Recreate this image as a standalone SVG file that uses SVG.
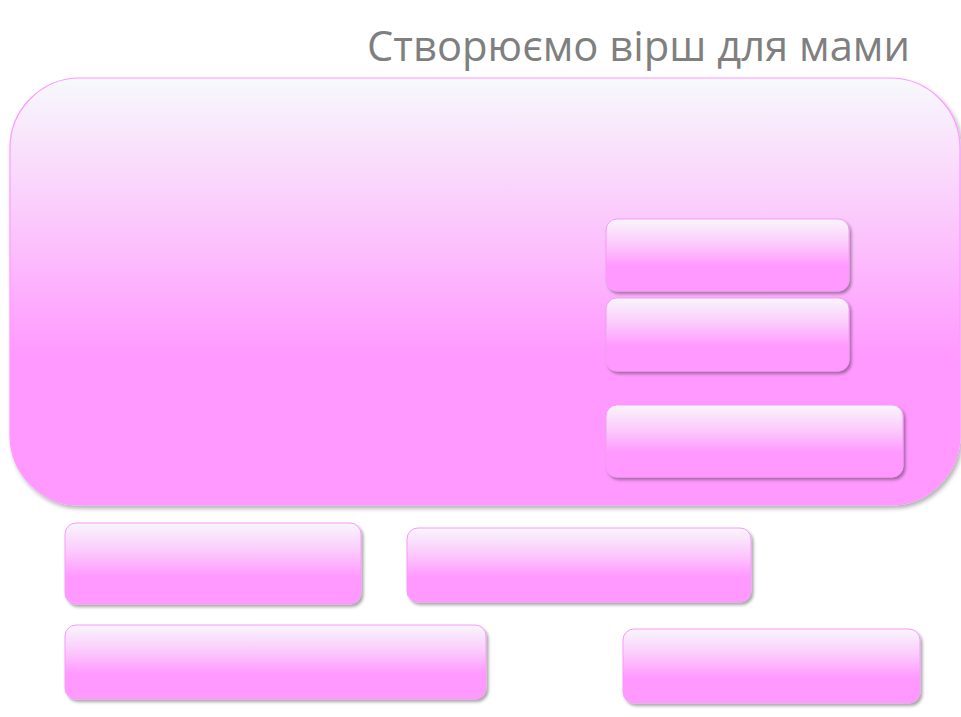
<svg xmlns="http://www.w3.org/2000/svg" width="961" height="717" viewBox="0 0 961 717">
<style>
.title{font-family:"Open Sans","DejaVu Sans",sans-serif;font-size:42px;fill:#7f7f7f}
.box{fill:url(#gSmall);stroke:#f59cf5;stroke-width:1;filter:url(#sh)}
.big{fill:url(#gBig);stroke:#ff99ff;stroke-width:1.2;filter:url(#shBig)}
</style>
<defs>
<linearGradient id="gBig" x1="0" y1="0" x2="0" y2="1">
<stop offset="0" stop-color="#f7f9fc"/>
<stop offset="0.32" stop-color="#fbcbfc"/>
<stop offset="0.65" stop-color="#ff99ff"/>
<stop offset="1" stop-color="#ff99ff"/>
</linearGradient>
<linearGradient id="gSmall" x1="0" y1="0" x2="0" y2="1">
<stop offset="0" stop-color="#f8f6fc"/>
<stop offset="0.35" stop-color="#fbcafc"/>
<stop offset="0.66" stop-color="#ff99ff"/>
<stop offset="1" stop-color="#ff99ff"/>
</linearGradient>
<filter id="sh" x="-5%" y="-10%" width="115%" height="130%">
<feDropShadow dx="2" dy="2.5" stdDeviation="1.5" flood-color="#000" flood-opacity="0.35"/>
</filter>
<filter id="shBig" x="-3%" y="-3%" width="106%" height="108%">
<feDropShadow dx="2" dy="3" stdDeviation="2" flood-color="#000" flood-opacity="0.3"/>
</filter>
</defs>
<rect width="961" height="717" fill="#ffffff"/>
<text class="title" x="367" y="61" textLength="543" lengthAdjust="spacingAndGlyphs">Створюємо вірш для мами</text>
<g id="container">
<rect class="big" x="10" y="78" width="950" height="427" rx="70" ry="70"/>
</g>
<g id="node1"><rect class="box" x="606" y="219" width="243" height="72" rx="11"/></g>
<g id="node2"><rect class="box" x="606" y="298" width="243" height="73" rx="11"/></g>
<g id="node3"><rect class="box" x="606" y="405" width="297" height="72" rx="11"/></g>
<g id="node4"><rect class="box" x="65" y="523" width="296" height="81" rx="11"/></g>
<g id="node5"><rect class="box" x="407" y="528" width="344" height="74" rx="11"/></g>
<g id="node6"><rect class="box" x="65" y="625" width="421" height="74" rx="11"/></g>
<g id="node7"><rect class="box" x="623" y="629" width="297" height="74" rx="11"/></g>
<g id="connectors"></g>
</svg>
